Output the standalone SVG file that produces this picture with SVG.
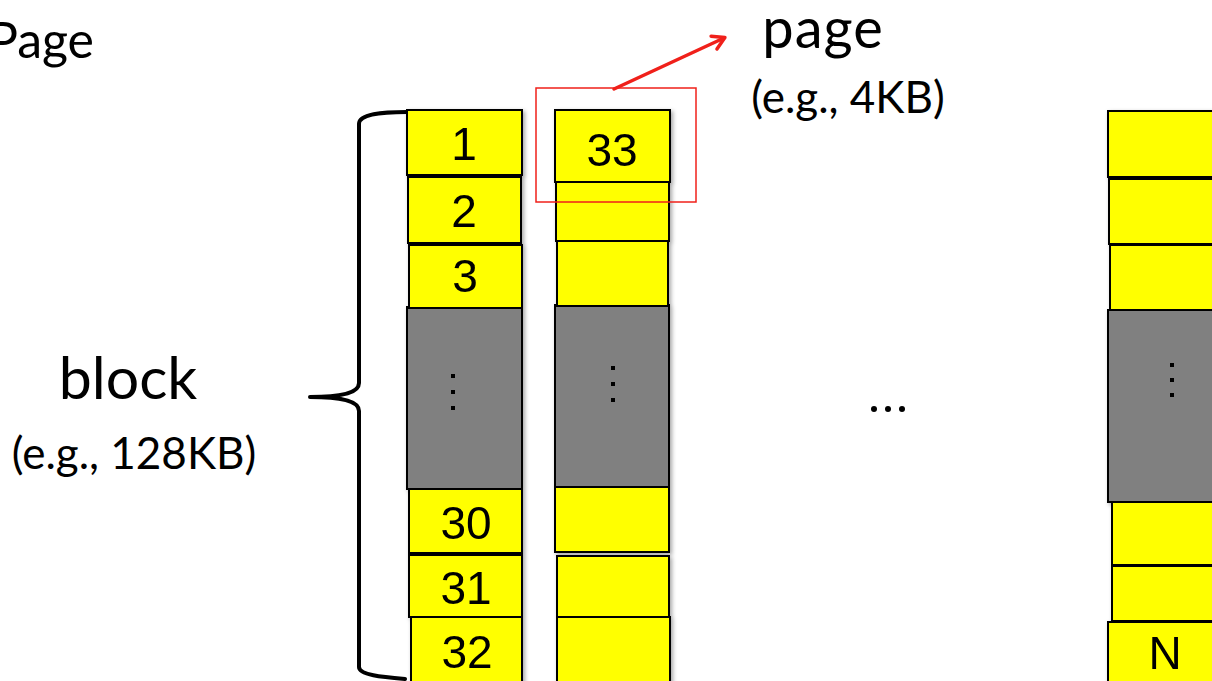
<svg xmlns="http://www.w3.org/2000/svg" width="1212" height="681" viewBox="0 0 1212 681">
<style>
.y{fill:#ffff00;stroke:#000;stroke-width:2}
.g{fill:#808080;stroke:#000;stroke-width:2}
.num{font-family:"Liberation Sans",Arial,sans-serif;font-size:46px;fill:#000;text-anchor:middle}
.lbl{font-family:Lato,"Open Sans",sans-serif;fill:#000}
.dot{fill:#000}
</style>
<defs>
<filter id="sh" x="-10%" y="-10%" width="130%" height="130%">
<feDropShadow dx="2" dy="2" stdDeviation="2" flood-color="#000" flood-opacity="0.35"/>
</filter>
<marker id="ah" markerWidth="20" markerHeight="20" refX="15" refY="10" orient="auto" markerUnits="userSpaceOnUse" viewBox="0 0 20 20">
<path d="M4,3 L16,10 L4,17" fill="none" stroke="#f0201a" stroke-width="3.5" stroke-linecap="round" stroke-linejoin="round"/>
</marker>
</defs>
<rect width="1212" height="681" fill="#fff"/>

<text class="lbl" x="94" y="58" font-size="50" text-anchor="end">Page</text>

<g id="block-label">
<text class="lbl" x="128" y="399" font-size="59" text-anchor="middle">block</text>
<text class="lbl" x="134" y="469" font-size="44" text-anchor="middle">(e.g., 128KB)</text>
</g>

<g id="brace">
<path d="M407 112 C382 112 359 114 359 124 L359 383 C359 392 345 397 310 397 C345 397 359 402 359 411 L359 667 C359 675 382 677 405 679" fill="none" stroke="#000" stroke-width="4" stroke-linecap="round" stroke-linejoin="round"/>
</g>

<g id="block1" filter="url(#sh)">
<rect class="g" x="407" y="307" width="115" height="182"/>
<rect class="y" x="407" y="110" width="115" height="65"/>
<rect class="y" x="408" y="177" width="113" height="66"/>
<rect class="y" x="409" y="245" width="113" height="63"/>
<rect class="y" x="409" y="489" width="113" height="64"/>
<rect class="y" x="409" y="555" width="113" height="62"/>
<rect class="y" x="411" y="617" width="111" height="70"/>
<text class="num" x="464" y="160">1</text>
<text class="num" x="464" y="227">2</text>
<text class="num" x="465" y="292">3</text>
<text class="num" x="466" y="539">30</text>
<text class="num" x="466" y="604">31</text>
<text class="num" x="467" y="668">32</text>
<rect class="dot" x="451" y="374" width="4" height="4"/>
<rect class="dot" x="451" y="390" width="4" height="4"/>
<rect class="dot" x="451" y="406" width="4" height="4"/>
</g>

<g id="block2" filter="url(#sh)">
<rect class="g" x="555" y="305" width="114" height="182"/>
<rect class="y" x="555" y="110" width="115" height="72"/>
<rect class="y" x="556" y="182" width="113" height="59"/>
<rect class="y" x="557" y="241" width="111" height="65"/>
<rect class="y" x="555" y="487" width="114" height="65"/>
<rect class="y" x="557" y="556" width="112" height="61"/>
<rect class="y" x="557" y="617" width="113" height="70"/>
<text class="num" x="612" y="166">33</text>
<rect class="dot" x="611" y="366" width="4" height="4"/>
<rect class="dot" x="611" y="382" width="4" height="4"/>
<rect class="dot" x="611" y="398" width="4" height="4"/>
</g>

<g id="blockN" filter="url(#sh)">
<rect class="g" x="1108" y="310" width="110" height="192"/>
<rect class="y" x="1108" y="111" width="110" height="66"/>
<rect class="y" x="1109" y="179" width="109" height="65"/>
<rect class="y" x="1110" y="245" width="108" height="65"/>
<rect class="y" x="1112" y="502" width="106" height="63"/>
<rect class="y" x="1112" y="566" width="106" height="55"/>
<rect class="y" x="1108" y="622" width="110" height="65"/>
<text class="num" x="1165" y="669">N</text>
<rect class="dot" x="1170" y="363" width="4" height="4"/>
<rect class="dot" x="1170" y="378" width="4" height="4"/>
<rect class="dot" x="1170" y="393" width="4" height="4"/>
</g>

<g id="ellipsis">
<circle cx="874" cy="409" r="3"/>
<circle cx="888" cy="409" r="3"/>
<circle cx="902" cy="409" r="3"/>
</g>

<g id="page-highlight">
<rect x="536" y="88" width="160" height="114" fill="none" stroke="#f0201a" stroke-width="1.5"/>
</g>

<g id="connectors">
<line x1="614" y1="89" x2="724" y2="38" stroke="#f0201a" stroke-width="3.5" stroke-linecap="round" marker-end="url(#ah)"/>
</g>

<g id="page-label">
<text class="lbl" x="823" y="48" font-size="56" text-anchor="middle" letter-spacing="1">page</text>
<text class="lbl" x="848" y="113" font-size="44" text-anchor="middle">(e.g., 4KB)</text>
</g>
</svg>
